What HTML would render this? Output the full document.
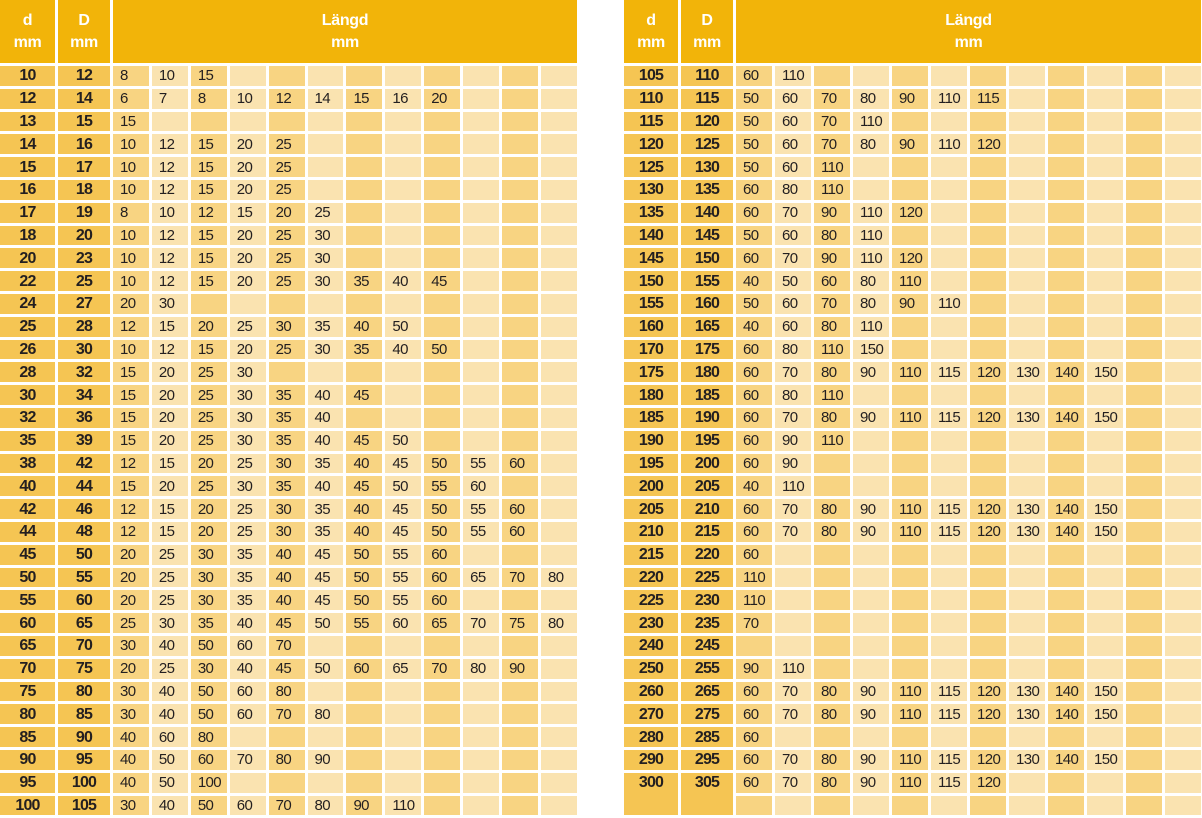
<!DOCTYPE html>
<html><head><meta charset="utf-8"><style>
body{margin:0;background:#fff;width:1202px;height:818px;overflow:hidden;position:relative;font-family:"Liberation Sans Narrow","Liberation Sans",sans-serif;}
table{position:absolute;top:-3px;border-collapse:separate;border-spacing:3px;table-layout:fixed;}
#L{left:-3px;width:583px}
#R{left:621px;width:583px}
td,th{padding:0;height:19.8px;font-size:15px;line-height:19px;color:#231f20;overflow:hidden;white-space:nowrap;letter-spacing:-0.6px}
thead th{background:#f2b409;color:#fff;height:63px;font-weight:bold;line-height:22px;font-size:16px;text-align:center;letter-spacing:-0.3px}
tbody th{background:#f5c553;font-weight:bold;text-align:center;font-size:16px;letter-spacing:-0.8px}
td{text-align:left;padding-left:7px}
td:nth-of-type(odd){background:#f8d482}
td:nth-of-type(even){background:#fae3b0}
tbody th[rowspan]{vertical-align:top}
</style></head><body>
<table id="L"><colgroup><col style="width:55px"><col style="width:52px"><col span="12"></colgroup>
<thead><tr><th>d<br>mm</th><th>D<br>mm</th><th colspan="12">Längd<br>mm</th></tr></thead>
<tbody>
<tr><th>10</th><th>12</th><td>8</td><td>10</td><td>15</td><td></td><td></td><td></td><td></td><td></td><td></td><td></td><td></td><td></td></tr>
<tr><th>12</th><th>14</th><td>6</td><td>7</td><td>8</td><td>10</td><td>12</td><td>14</td><td>15</td><td>16</td><td>20</td><td></td><td></td><td></td></tr>
<tr><th>13</th><th>15</th><td>15</td><td></td><td></td><td></td><td></td><td></td><td></td><td></td><td></td><td></td><td></td><td></td></tr>
<tr><th>14</th><th>16</th><td>10</td><td>12</td><td>15</td><td>20</td><td>25</td><td></td><td></td><td></td><td></td><td></td><td></td><td></td></tr>
<tr><th>15</th><th>17</th><td>10</td><td>12</td><td>15</td><td>20</td><td>25</td><td></td><td></td><td></td><td></td><td></td><td></td><td></td></tr>
<tr><th>16</th><th>18</th><td>10</td><td>12</td><td>15</td><td>20</td><td>25</td><td></td><td></td><td></td><td></td><td></td><td></td><td></td></tr>
<tr><th>17</th><th>19</th><td>8</td><td>10</td><td>12</td><td>15</td><td>20</td><td>25</td><td></td><td></td><td></td><td></td><td></td><td></td></tr>
<tr><th>18</th><th>20</th><td>10</td><td>12</td><td>15</td><td>20</td><td>25</td><td>30</td><td></td><td></td><td></td><td></td><td></td><td></td></tr>
<tr><th>20</th><th>23</th><td>10</td><td>12</td><td>15</td><td>20</td><td>25</td><td>30</td><td></td><td></td><td></td><td></td><td></td><td></td></tr>
<tr><th>22</th><th>25</th><td>10</td><td>12</td><td>15</td><td>20</td><td>25</td><td>30</td><td>35</td><td>40</td><td>45</td><td></td><td></td><td></td></tr>
<tr><th>24</th><th>27</th><td>20</td><td>30</td><td></td><td></td><td></td><td></td><td></td><td></td><td></td><td></td><td></td><td></td></tr>
<tr><th>25</th><th>28</th><td>12</td><td>15</td><td>20</td><td>25</td><td>30</td><td>35</td><td>40</td><td>50</td><td></td><td></td><td></td><td></td></tr>
<tr><th>26</th><th>30</th><td>10</td><td>12</td><td>15</td><td>20</td><td>25</td><td>30</td><td>35</td><td>40</td><td>50</td><td></td><td></td><td></td></tr>
<tr><th>28</th><th>32</th><td>15</td><td>20</td><td>25</td><td>30</td><td></td><td></td><td></td><td></td><td></td><td></td><td></td><td></td></tr>
<tr><th>30</th><th>34</th><td>15</td><td>20</td><td>25</td><td>30</td><td>35</td><td>40</td><td>45</td><td></td><td></td><td></td><td></td><td></td></tr>
<tr><th>32</th><th>36</th><td>15</td><td>20</td><td>25</td><td>30</td><td>35</td><td>40</td><td></td><td></td><td></td><td></td><td></td><td></td></tr>
<tr><th>35</th><th>39</th><td>15</td><td>20</td><td>25</td><td>30</td><td>35</td><td>40</td><td>45</td><td>50</td><td></td><td></td><td></td><td></td></tr>
<tr><th>38</th><th>42</th><td>12</td><td>15</td><td>20</td><td>25</td><td>30</td><td>35</td><td>40</td><td>45</td><td>50</td><td>55</td><td>60</td><td></td></tr>
<tr><th>40</th><th>44</th><td>15</td><td>20</td><td>25</td><td>30</td><td>35</td><td>40</td><td>45</td><td>50</td><td>55</td><td>60</td><td></td><td></td></tr>
<tr><th>42</th><th>46</th><td>12</td><td>15</td><td>20</td><td>25</td><td>30</td><td>35</td><td>40</td><td>45</td><td>50</td><td>55</td><td>60</td><td></td></tr>
<tr><th>44</th><th>48</th><td>12</td><td>15</td><td>20</td><td>25</td><td>30</td><td>35</td><td>40</td><td>45</td><td>50</td><td>55</td><td>60</td><td></td></tr>
<tr><th>45</th><th>50</th><td>20</td><td>25</td><td>30</td><td>35</td><td>40</td><td>45</td><td>50</td><td>55</td><td>60</td><td></td><td></td><td></td></tr>
<tr><th>50</th><th>55</th><td>20</td><td>25</td><td>30</td><td>35</td><td>40</td><td>45</td><td>50</td><td>55</td><td>60</td><td>65</td><td>70</td><td>80</td></tr>
<tr><th>55</th><th>60</th><td>20</td><td>25</td><td>30</td><td>35</td><td>40</td><td>45</td><td>50</td><td>55</td><td>60</td><td></td><td></td><td></td></tr>
<tr><th>60</th><th>65</th><td>25</td><td>30</td><td>35</td><td>40</td><td>45</td><td>50</td><td>55</td><td>60</td><td>65</td><td>70</td><td>75</td><td>80</td></tr>
<tr><th>65</th><th>70</th><td>30</td><td>40</td><td>50</td><td>60</td><td>70</td><td></td><td></td><td></td><td></td><td></td><td></td><td></td></tr>
<tr><th>70</th><th>75</th><td>20</td><td>25</td><td>30</td><td>40</td><td>45</td><td>50</td><td>60</td><td>65</td><td>70</td><td>80</td><td>90</td><td></td></tr>
<tr><th>75</th><th>80</th><td>30</td><td>40</td><td>50</td><td>60</td><td>80</td><td></td><td></td><td></td><td></td><td></td><td></td><td></td></tr>
<tr><th>80</th><th>85</th><td>30</td><td>40</td><td>50</td><td>60</td><td>70</td><td>80</td><td></td><td></td><td></td><td></td><td></td><td></td></tr>
<tr><th>85</th><th>90</th><td>40</td><td>60</td><td>80</td><td></td><td></td><td></td><td></td><td></td><td></td><td></td><td></td><td></td></tr>
<tr><th>90</th><th>95</th><td>40</td><td>50</td><td>60</td><td>70</td><td>80</td><td>90</td><td></td><td></td><td></td><td></td><td></td><td></td></tr>
<tr><th>95</th><th>100</th><td>40</td><td>50</td><td>100</td><td></td><td></td><td></td><td></td><td></td><td></td><td></td><td></td><td></td></tr>
<tr><th>100</th><th>105</th><td>30</td><td>40</td><td>50</td><td>60</td><td>70</td><td>80</td><td>90</td><td>110</td><td></td><td></td><td></td><td></td></tr>
</tbody></table>

<table id="R"><colgroup><col style="width:54px"><col style="width:52px"><col span="12"></colgroup>
<thead><tr><th>d<br>mm</th><th>D<br>mm</th><th colspan="12">Längd<br>mm</th></tr></thead>
<tbody>
<tr><th>105</th><th>110</th><td>60</td><td>110</td><td></td><td></td><td></td><td></td><td></td><td></td><td></td><td></td><td></td><td></td></tr>
<tr><th>110</th><th>115</th><td>50</td><td>60</td><td>70</td><td>80</td><td>90</td><td>110</td><td>115</td><td></td><td></td><td></td><td></td><td></td></tr>
<tr><th>115</th><th>120</th><td>50</td><td>60</td><td>70</td><td>110</td><td></td><td></td><td></td><td></td><td></td><td></td><td></td><td></td></tr>
<tr><th>120</th><th>125</th><td>50</td><td>60</td><td>70</td><td>80</td><td>90</td><td>110</td><td>120</td><td></td><td></td><td></td><td></td><td></td></tr>
<tr><th>125</th><th>130</th><td>50</td><td>60</td><td>110</td><td></td><td></td><td></td><td></td><td></td><td></td><td></td><td></td><td></td></tr>
<tr><th>130</th><th>135</th><td>60</td><td>80</td><td>110</td><td></td><td></td><td></td><td></td><td></td><td></td><td></td><td></td><td></td></tr>
<tr><th>135</th><th>140</th><td>60</td><td>70</td><td>90</td><td>110</td><td>120</td><td></td><td></td><td></td><td></td><td></td><td></td><td></td></tr>
<tr><th>140</th><th>145</th><td>50</td><td>60</td><td>80</td><td>110</td><td></td><td></td><td></td><td></td><td></td><td></td><td></td><td></td></tr>
<tr><th>145</th><th>150</th><td>60</td><td>70</td><td>90</td><td>110</td><td>120</td><td></td><td></td><td></td><td></td><td></td><td></td><td></td></tr>
<tr><th>150</th><th>155</th><td>40</td><td>50</td><td>60</td><td>80</td><td>110</td><td></td><td></td><td></td><td></td><td></td><td></td><td></td></tr>
<tr><th>155</th><th>160</th><td>50</td><td>60</td><td>70</td><td>80</td><td>90</td><td>110</td><td></td><td></td><td></td><td></td><td></td><td></td></tr>
<tr><th>160</th><th>165</th><td>40</td><td>60</td><td>80</td><td>110</td><td></td><td></td><td></td><td></td><td></td><td></td><td></td><td></td></tr>
<tr><th>170</th><th>175</th><td>60</td><td>80</td><td>110</td><td>150</td><td></td><td></td><td></td><td></td><td></td><td></td><td></td><td></td></tr>
<tr><th>175</th><th>180</th><td>60</td><td>70</td><td>80</td><td>90</td><td>110</td><td>115</td><td>120</td><td>130</td><td>140</td><td>150</td><td></td><td></td></tr>
<tr><th>180</th><th>185</th><td>60</td><td>80</td><td>110</td><td></td><td></td><td></td><td></td><td></td><td></td><td></td><td></td><td></td></tr>
<tr><th>185</th><th>190</th><td>60</td><td>70</td><td>80</td><td>90</td><td>110</td><td>115</td><td>120</td><td>130</td><td>140</td><td>150</td><td></td><td></td></tr>
<tr><th>190</th><th>195</th><td>60</td><td>90</td><td>110</td><td></td><td></td><td></td><td></td><td></td><td></td><td></td><td></td><td></td></tr>
<tr><th>195</th><th>200</th><td>60</td><td>90</td><td></td><td></td><td></td><td></td><td></td><td></td><td></td><td></td><td></td><td></td></tr>
<tr><th>200</th><th>205</th><td>40</td><td>110</td><td></td><td></td><td></td><td></td><td></td><td></td><td></td><td></td><td></td><td></td></tr>
<tr><th>205</th><th>210</th><td>60</td><td>70</td><td>80</td><td>90</td><td>110</td><td>115</td><td>120</td><td>130</td><td>140</td><td>150</td><td></td><td></td></tr>
<tr><th>210</th><th>215</th><td>60</td><td>70</td><td>80</td><td>90</td><td>110</td><td>115</td><td>120</td><td>130</td><td>140</td><td>150</td><td></td><td></td></tr>
<tr><th>215</th><th>220</th><td>60</td><td></td><td></td><td></td><td></td><td></td><td></td><td></td><td></td><td></td><td></td><td></td></tr>
<tr><th>220</th><th>225</th><td>110</td><td></td><td></td><td></td><td></td><td></td><td></td><td></td><td></td><td></td><td></td><td></td></tr>
<tr><th>225</th><th>230</th><td>110</td><td></td><td></td><td></td><td></td><td></td><td></td><td></td><td></td><td></td><td></td><td></td></tr>
<tr><th>230</th><th>235</th><td>70</td><td></td><td></td><td></td><td></td><td></td><td></td><td></td><td></td><td></td><td></td><td></td></tr>
<tr><th>240</th><th>245</th><td></td><td></td><td></td><td></td><td></td><td></td><td></td><td></td><td></td><td></td><td></td><td></td></tr>
<tr><th>250</th><th>255</th><td>90</td><td>110</td><td></td><td></td><td></td><td></td><td></td><td></td><td></td><td></td><td></td><td></td></tr>
<tr><th>260</th><th>265</th><td>60</td><td>70</td><td>80</td><td>90</td><td>110</td><td>115</td><td>120</td><td>130</td><td>140</td><td>150</td><td></td><td></td></tr>
<tr><th>270</th><th>275</th><td>60</td><td>70</td><td>80</td><td>90</td><td>110</td><td>115</td><td>120</td><td>130</td><td>140</td><td>150</td><td></td><td></td></tr>
<tr><th>280</th><th>285</th><td>60</td><td></td><td></td><td></td><td></td><td></td><td></td><td></td><td></td><td></td><td></td><td></td></tr>
<tr><th>290</th><th>295</th><td>60</td><td>70</td><td>80</td><td>90</td><td>110</td><td>115</td><td>120</td><td>130</td><td>140</td><td>150</td><td></td><td></td></tr>
<tr><th rowspan="2">300</th><th rowspan="2">305</th><td>60</td><td>70</td><td>80</td><td>90</td><td>110</td><td>115</td><td>120</td><td></td><td></td><td></td><td></td><td></td></tr>
<tr><td></td><td></td><td></td><td></td><td></td><td></td><td></td><td></td><td></td><td></td><td></td><td></td></tr>
</tbody></table>
</body></html>
